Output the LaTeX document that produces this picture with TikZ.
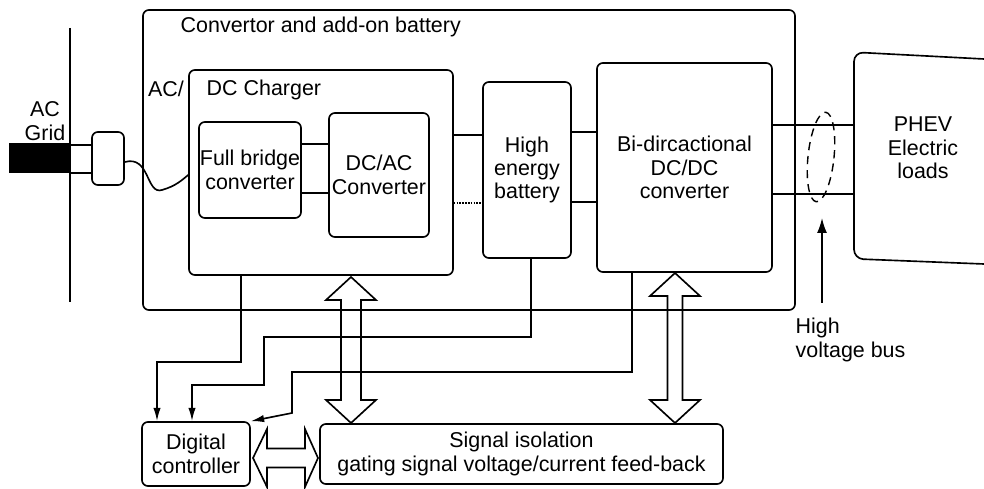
\documentclass[tikz,border=0pt]{standalone}
\usepackage{fontspec}
\setmainfont{Liberation Sans}
\usetikzlibrary{arrows.meta,shapes.geometric}
\def\px{0.03cm}

\begin{document}
\begin{tikzpicture}[
  x=0.03cm, y=-0.03cm,
  line width=1.4pt,
  font=\fontsize{18.3}{20}\selectfont,
  >={Latex[length=4mm,width=2.2mm]},
  box/.style={draw,rounded corners=5pt,align=center,inner sep=0pt},
  fat/.style={line join=miter},
]
  \useasboundingbox (0,0) rectangle (984,489);

  % converter and add-on battery
  \node[box,minimum width=652*\px,minimum height=300*\px] (conv) at (469,160) {};
  \node[anchor=west] (convt) at (176,27) {Convertor and add-on battery};

  % grid side
  \coordinate (gtop) at (70,28);
  \coordinate (gbot) at (70,302);
  \draw (gtop) -- (gbot);
  \node[align=center] (grid) at (45,121) {AC\\Grid};
  \node[fill=black,minimum width=61*\px,minimum height=30*\px,inner sep=0pt] (blk) at (39.5,158) {};
  \node[box,minimum width=32*\px,minimum height=53*\px] (plug) at (108,158.5) {};
  \foreach \y in {145,173}
    \draw (blk.east |- 0,\y) -- (plug.west |- 0,\y);

  % charger
  \node[box,minimum width=264*\px,minimum height=205*\px] (chg) at (321,172.5) {};
  \node (acdc) at (166,89) {AC/};
  \node[anchor=west] (chgt) at (202,90) {DC Charger};
  \node[box,minimum width=102*\px,minimum height=96*\px] (fb) at (250,170) {Full bridge\\converter};
  \node[box,minimum width=100*\px,minimum height=124*\px] (dcac) at (379,175) {DC/AC\\Converter};
  \draw (plug.east |- 0,162) .. controls (150,155) and (146,195) .. (162,190)
    .. controls (176,186) and (182,180) .. (chg.west |- 0,175);

  \node[box,minimum width=88*\px,minimum height=176*\px] (bat) at (527,170) {High\\energy\\battery};
  \node[box,minimum width=175*\px,minimum height=209*\px] (bdc) at (684.5,167.5) {Bi-dircactional\\DC/DC\\converter};

  % loads
  \node[inner sep=0pt,minimum width=0pt,minimum height=205*\px] (phev) at (854,155.5) {};
  \draw[rounded corners=8pt] (984,59) -- (phev.north) -- (phev.south) -- (984,264);
  \node[align=center] (phevt) at (923,148) {PHEV\\Electric\\loads};

  \foreach \a/\b/\y in {fb/dcac/144,fb/dcac/193,chg/bat/135,bat/bdc/132,bat/bdc/202,bdc/phev/125,bdc/phev/194}
    \draw (\a.east |- 0,\y) -- (\b.west |- 0,\y);
  \draw[densely dotted] (chg.east |- 0,203) -- (bat.west |- 0,203);

  % high voltage bus
  \node[draw,ellipse,inner sep=0pt,minimum width=26*\px,minimum height=90*\px,rotate=-6,
    line width=1.2pt,dash pattern=on 7pt off 5pt] (hvb) at (821,157) {};
  \coordinate (hvfoot) at (822,303);
  \coordinate (hvtip) at (822,218);
  \draw[-{Latex[length=4.5mm,width=3mm]}] (hvfoot) -- (hvtip);
  \node[anchor=west,align=left] (hvt) at (791,340) {High\\voltage bus};

  % control
  \node[box,minimum width=108*\px,minimum height=64*\px] (dc) at (196,454) {Digital\\controller};
  \node[box,minimum width=403*\px,minimum height=60*\px] (sig) at (521.5,454) {Signal isolation\\gating signal voltage/current feed-back};

  \draw[->] (chg.south -| 241,0) |- (157,362) -- (dc.north -| 157,0);
  \draw[->] (bat.south -| 531,0) |- (264,337) |- (192,385) -- (dc.north -| 192,0);
  \draw[->] (bdc.south -| 632,0) |- (292,372) -- (292,413) -- (dc.north east);

  \foreach \x/\t/\s in {351/277/10,675/273/7.5}
    \draw[fat] (\x,\t) -- ({\x+25},{\t+23}) -- ({\x+\s},{\t+23}) -- ({\x+\s},400) -- ({\x+25},400)
      -- (\x,423) -- ({\x-25},400) -- ({\x-\s},400) -- ({\x-\s},{\t+23}) -- ({\x-25},{\t+23}) -- cycle;
  \draw[fat] (253,458) -- (267,429) -- (267,448.5) -- (305,448.5) -- (305,429) -- (318,458)
    -- (305,487) -- (305,467.5) -- (267,467.5) -- (267,487) -- cycle;
\end{tikzpicture}
\end{document}
